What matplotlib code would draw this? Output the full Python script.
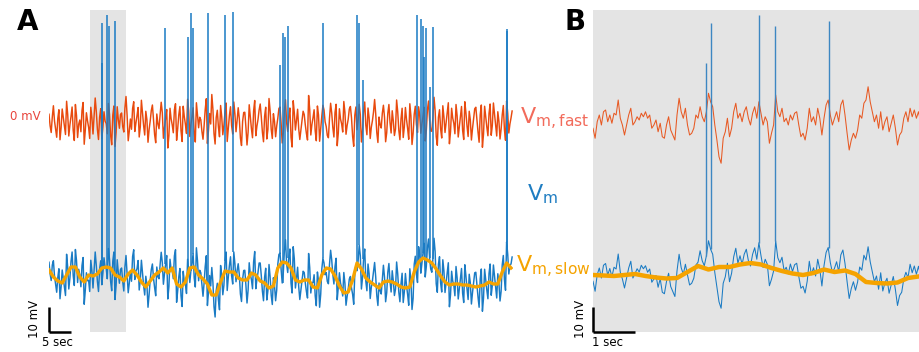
import matplotlib.pyplot as plt
import numpy as np

# ---- panel A: full recording (s, mV) ----
dt_fast_a = 0.25  # fast component sampled every 0.25 s
dt_slow_a = 1.0   # slow component every 1 s
vm_fast_a = [
    3.1, -1.5, -4.2, 2.0, 6.5, 0.4, -2.8, -6.1, 1.4, 4.9, -7.1, -2.3, 5.2, 1.8, -1.9, -5.0, 8.3, 3.0, -5.6, -1.2,
    2.2, 6.0, -3.4, -7.4, 7.0, 2.6, -6.2, -0.9, 0.8, -3.9, 4.6, 7.8, -8.9, -3.3, 3.7, 0.5, -2.1, -6.6, 5.9, 1.7,
    -4.8, 2.4, 9.6, 4.2, -3.0, -7.0, 1.9, 5.3, -6.7, -2.0, 4.1, 0.3, -0.6, -4.7, 7.4, 3.1, -5.3, -9.1, 2.8, 6.4,
    -9.8, -4.1, 6.1, 1.0, -2.5, 3.0, 3.6, -1.8, -4.0, 5.6, 10.2, 2.7, -7.5, -3.6, 1.2, -2.9, 5.4, 8.1, -3.8, -0.4,
    2.5, 5.8, -6.0, -1.9, 8.7, 3.5, -1.4, -5.2, 4.3, 0.9, -8.1, -3.0, 0.4, 4.6, 6.8, 1.1, -5.0, -8.3, 3.2, -0.7,
    -2.7, 2.9, 7.9, 3.8, -6.5, -2.2, 1.6, 5.0, -10.4, -5.5, 5.5, 1.3, -1.1, -4.3, 4.9, 7.3, -7.3, -2.6, 2.9, 6.2,
    -3.5, -7.8, 6.3, 2.1, -0.9, -4.6, 9.1, 4.4, -5.8, -1.0, 2.0, 5.7, -4.4, -8.0, 7.7, 2.5, -2.3, 1.9, 0.9, -3.7,
    -6.9, -1.5, 5.0, 9.3, -8.6, -3.2, 3.4, -0.8, 11.0, 5.1, -4.7, -8.8, 1.8, 4.7, -2.0, -5.9, 6.6, 2.2, -5.1, -1.3,
    4.0, 7.6, -7.8, -2.4, 2.6, 6.1, -1.5, -4.8, 8.0, 3.3, -3.9, 0.6, 5.7, 1.4, -6.4, -9.4, 0.2, 3.8, 3.9, -2.1,
    -9.2, -4.0, 6.9, 2.3, -2.6, -6.3, 4.4, 8.6, -5.5, -1.7, 1.0, 4.8, 7.2, 2.0, -4.1, -7.9, 2.3, 5.9, -6.8, -3.0,
    9.4, 4.5, -2.9, -6.6, 3.3, 0.2, -5.9, -1.6, 1.5, 5.4, 6.0, -0.5, -8.4, -4.2, 4.7, 8.9, -0.3, -3.8, 2.1, 5.6,
    -6.1, -10.0, 8.5, 3.7, -3.2, 0.7, 5.1, -2.7, -7.0, -3.1, 0.6, 4.3, 3.0, -1.2, -4.6, -7.2, 10.6, 5.0, -5.2, -1.0,
    1.7, 4.9, -3.6, -7.5, 6.4, 2.8, -7.7, -2.5, 2.4, 6.7, 4.8, 0.1, -1.8, -5.4, -6.3, 1.5, 7.5, 3.6, -2.2, -6.0,
    3.8, 7.1, -9.5, -4.4, 5.3, 1.2, -0.7, -4.0, 8.2, 3.9, -4.9, -1.4, 1.1, 5.2, 6.2, 1.6, -5.7, -9.7, 2.7, 6.0,
    -3.1, 0.8, 7.1, 2.9, -8.0, -3.5, 4.2, 8.0, -1.3, -5.1, 5.6, 1.7, -6.6, -2.1, 0.5, 4.0, 9.0, 3.2, -4.3, -8.2,
    2.0, -1.1, -2.4, 3.5, 6.7, 1.9, -7.9, -4.3, 3.5, 7.0, -0.2, -4.4, 4.5, 0.4, -5.4, -2.8, 8.8, 4.1, -3.3, -7.1,
    1.3, 5.5, -6.2, -2.0, 5.8, 1.0, -2.6, -6.9, 7.3, 2.4, -9.0, -4.5, 3.1, 6.3, -1.0, -4.2, 6.1, 2.6, -4.5, -0.6,
    2.2, 5.9, -7.6, -3.4, 4.9, 8.4, 0.7, -3.6, -3.7, 1.8, 9.9, 4.6, -5.9, -9.3, 1.9, 4.9, -2.8, -6.4, 6.5, 2.0,
    -4.2, -0.3, 3.6, 7.7, -8.7, -3.9, 5.5, 1.6, -0.5, -4.7, 7.0, 2.5, -6.0, -1.9, 2.5, 6.2, -3.3, -7.0, 8.1, 3.7,
    -1.6, -5.8, 4.3, 0.8, -7.2, -2.6, 1.4, 5.3, 5.9, 1.0, -4.0, -8.1, 2.9, 6.8, -10.1, -4.8, 6.3, 2.0, -2.0, -5.5,
    3.4, 7.2, -5.3, -1.4, 7.6, 3.0, -1.2, -5.6, 4.1, 0.3, -6.8, -2.9, 2.8, 6.6, -3.0, -7.3, 8.4, 3.5, -4.4, -0.8,
    1.6, 4.4,
]
vm_slow_a = [
    -59.2, -62.0, -63.6, -64.4, -61.2, -58.0, -58.0, -62.0, -64.0, -61.2,
    -61.6, -60.8, -58.4, -58.0, -58.4, -61.2, -62.0, -63.6, -60.8, -59.2,
    -61.2, -64.0, -66.0, -63.6, -61.2, -60.0, -58.4, -60.4, -58.4, -64.8,
    -66.0, -64.0, -58.4, -58.0, -61.2, -62.8, -64.8, -69.2, -69.2, -64.0,
    -59.6, -60.0, -60.0, -62.4, -63.2, -63.2, -60.4, -61.2, -63.6, -64.4,
    -66.4, -65.6, -58.4, -56.0, -56.4, -58.4, -63.2, -64.0, -63.2, -63.2,
    -66.0, -66.4, -61.2, -58.4, -58.8, -61.6, -65.6, -68.4, -68.0, -63.2,
    -56.4, -58.8, -62.4, -64.0, -65.2, -66.4, -64.0, -63.6, -64.0, -64.8,
    -66.0, -66.4, -66.0, -60.0, -56.0, -54.4, -55.2, -56.4, -58.8, -61.6,
    -64.0, -65.2, -64.8, -64.8, -65.2, -65.2, -65.6, -66.0, -65.6, -65.2,
    -64.0, -64.8, -64.8, -60.0, -56.4, -58.4,
]
spike_t = [12.0, 12.12, 13.25, 13.63, 14.92, 26.4, 31.7, 32.2, 32.7, 36.2,
           40.0, 41.9, 52.5, 53.1, 53.6, 54.4, 62.3, 69.9, 70.5, 71.4,
           83.6, 84.5, 84.9, 85.2, 85.7, 86.6, 87.3, 104.0, 104.2]
spike_peak = [23.6, 39.6, 42.8, 38.4, 40.4, 37.6, 34.0, 43.6, 37.6, 43.6,
              42.8, 44.0, 22.8, 35.6, 34.0, 38.4, 39.6, 42.8, 39.6, 16.8,
              42.8, 41.2, 38.4, 26.0, 37.6, 14.0, 38.0, 37.2, 36.4]

# ---- panel B: zoom on shaded window ----
win_start = 9.3
win_len = 8.2
dt_fast_b = 0.05
dt_slow_b = 0.25
vm_fast_b = [
    -2.5, -6.5, 0.1, 2.8, -1.2, 4.1, 4.8, 0.1, 2.8, -0.5, 3.5, 2.8, 8.8, 1.5, -1.2, -5.2, -1.2, 2.8, 5.5, -1.2,
    0.1, 2.1, 0.8, 3.5, 2.1, 4.1, 1.5, 2.8, -2.5, -1.2, 0.8, -3.9, -0.5, -5.9, -6.5, -1.2, 2.1, -3.2, -5.2, -7.2,
    2.8, 9.5, 4.1, 1.5, 5.5, -1.2, -5.2, -4.5, -2.5, 2.8, 1.5, 6.1, 2.1, 0.1, 4.1, 11.5, 8.1, 6.1, -1.2, -7.2,
    -13.9, -16.5, -6.5, -3.9, 1.5, -5.9, -2.5, 4.1, 7.5, 1.5, 3.5, 0.1, 4.1, 6.1, 1.5, -1.2, 3.5, 6.1, 1.5, 8.1,
    3.5, -1.2, 2.1, 0.1, -8.5, -4.5, -1.2, 10.8, 4.1, 2.1, 5.5, 0.1, 1.5, -1.2, 2.8, 0.8, 3.5, 4.1, -1.2, -5.9,
    -4.5, -7.2, -2.5, 5.5, 0.1, 2.1, -1.2, 5.5, 1.5, -5.2, 1.5, 6.8, 8.8, 2.8, -1.2, 1.5, 4.1, 0.1, 6.8, 8.8,
    2.8, -4.5, -11.2, -7.2, -4.5, -6.5, -3.2, 2.8, 1.5, 7.5, 8.8, 14.1, 8.1, 4.1, 0.1, 2.8, -2.5, 4.1, -3.2, 0.1,
    2.1, -3.9, -0.5, 2.8, -2.5, -9.2, -5.2, -3.9, 1.5, 4.1, 0.1, 5.5, 2.1, 4.8, 1.5, 4.1, 0.1,
]
vm_slow_b = [
    -61.2, -61.4, -61.6, -61.2, -60.8, -61.6, -62.2, -62.6, -62.4, -60.0,
    -57.6, -59.0, -58.0, -58.0, -57.0, -56.4, -57.0, -58.4, -59.6, -60.6,
    -61.2, -60.4, -59.0, -60.0, -59.4, -60.8, -64.0, -64.4, -64.6, -64.2,
    -62.4, -61.8,
]

c_fast = "#e84a0e"
c_vm = "#1a7bc4"
c_slow = "#f5a300"
ylim = (-84, 44.8)

fig = plt.figure(figsize=(9.2, 3.52), dpi=100)

# panel A
axA = fig.add_axes([49 / 920, 20 / 352, 464 / 920, 322 / 352])
fast_a = np.array(vm_fast_a)
t_fa = np.arange(len(fast_a)) * dt_fast_a
t_sa = np.arange(len(vm_slow_a)) * dt_slow_a
vm_a = np.repeat(vm_slow_a, 4)[:len(fast_a)] + fast_a
st = np.array(spike_t)
base_a = vm_a[np.round(st / dt_fast_a).astype(int)]

axA.axvspan(win_start, win_start + win_len, color="#e4e4e4", lw=0, zorder=0)
axA.plot(t_fa, fast_a, color=c_fast, lw=1.05, zorder=2)
axA.plot(t_fa, vm_a, color=c_vm, lw=1.05, zorder=3)
axA.vlines(st, base_a, spike_peak, color=c_vm, lw=1.1, zorder=3)
axA.plot(t_sa, vm_slow_a, color=c_slow, lw=2.4, zorder=4)
axA.set_xlim(0, 105.45)
axA.set_ylim(*ylim)
axA.axis("off")
axA.plot([0, 0], [ylim[0], ylim[0] + 10], color="k", lw=1.8, clip_on=False, solid_capstyle="butt")
axA.plot([0, 5], [ylim[0], ylim[0]], color="k", lw=1.8, clip_on=False, solid_capstyle="butt")

# panel B
axB = fig.add_axes([593 / 920, 20 / 352, 327 / 920, 322 / 352])
fast_b = np.array(vm_fast_b)
t_fb = np.arange(len(fast_b)) * dt_fast_b
t_sb = np.arange(len(vm_slow_b)) * dt_slow_b
vm_b = np.repeat(vm_slow_b, 5)[:len(fast_b)] + fast_b
tb = st - win_start
inwin = (tb >= 0) & (tb <= t_fb[-1])
base_b = vm_b[np.round(tb[inwin] / dt_fast_b).astype(int)]

axB.set_facecolor("#e4e4e4")
axB.plot(t_fb, fast_b, color=c_fast, lw=0.75, alpha=0.9)
axB.plot(t_fb, vm_b, color=c_vm, lw=0.75)
axB.vlines(tb[inwin], base_b, np.array(spike_peak)[inwin], color="#3d87c2", lw=1.0)
axB.plot(t_sb, vm_slow_b, color=c_slow, lw=3.2)
axB.set_xlim(0, 327 / 42)
axB.set_ylim(*ylim)
axB.set_xticks([])
axB.set_yticks([])
for s in axB.spines.values():
    s.set_visible(False)
axB.plot([0, 0], [ylim[0], ylim[0] + 10], color="k", lw=1.8, clip_on=False, solid_capstyle="butt")
axB.plot([0, 1], [ylim[0], ylim[0]], color="k", lw=1.8, clip_on=False, solid_capstyle="butt")

# texts
def fx(x):
    return x / 920

def fy(y):
    return 1 - y / 352

fig.text(fx(28), fy(22), "A", fontsize=20, fontweight="bold", ha="center", va="center")
fig.text(fx(575), fy(22), "B", fontsize=20, fontweight="bold", ha="center", va="center")
fig.text(fx(25), fy(117), "0 mV", fontsize=8.5, color="#e8453c", ha="center", va="center")
fig.text(fx(520), fy(119), r"V$_{\mathrm{m,fast}}$", fontsize=16, color="#f26b5b", ha="left", va="center")
fig.text(fx(527), fy(194), r"V$_{\mathrm{m}}$", fontsize=16, color="#1f7dc2", ha="left", va="center")
fig.text(fx(516), fy(267), r"V$_{\mathrm{m,slow}}$", fontsize=16, color=c_slow, ha="left", va="center")
fig.text(fx(35), fy(319), "10 mV", fontsize=8.5, rotation=90, ha="center", va="center")
fig.text(fx(57), fy(343), "5 sec", fontsize=8.5, ha="center", va="center")
fig.text(fx(580), fy(319), "10 mV", fontsize=8.5, rotation=90, ha="center", va="center")
fig.text(fx(607), fy(342), "1 sec", fontsize=8.5, ha="center", va="center")

fig.savefig("out.png", dpi=100)
